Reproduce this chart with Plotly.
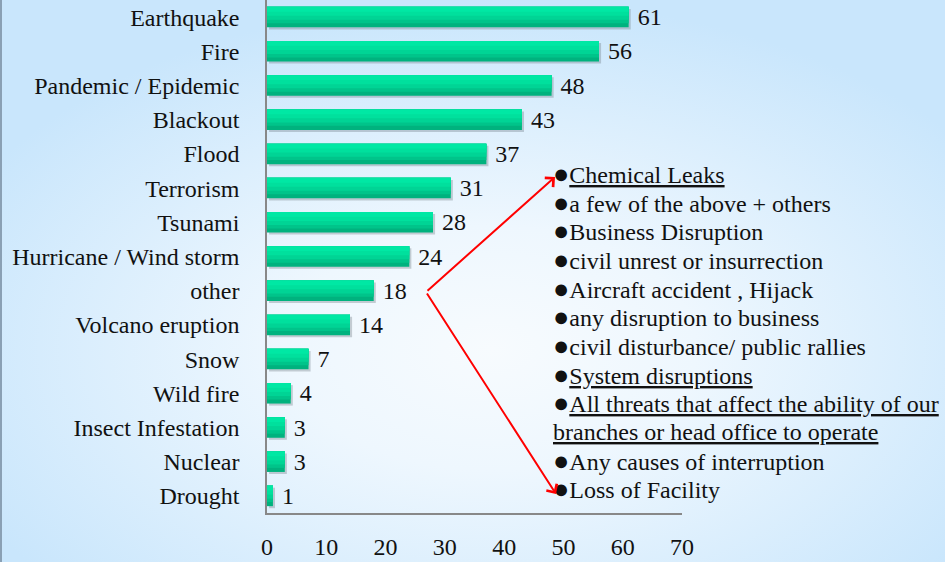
import plotly.graph_objects as go
import urllib.parse

categories = ["Earthquake", "Fire", "Pandemic / Epidemic", "Blackout", "Flood", "Terrorism",
              "Tsunami", "Hurricane / Wind storm", "other", "Volcano eruption", "Snow",
              "Wild fire", "Insect Infestation", "Nuclear", "Drought"]
values = [61, 56, 48, 43, 37, 31, 28, 24, 18, 14, 7, 4, 3, 3, 1]
x_ticks = [0, 10, 20, 30, 40, 50, 60, 70]

other_items = [
    ("●", "<u>Chemical Leaks</u>"),
    ("●", "a few of the above + others"),
    ("●", "Business Disruption"),
    ("●", "civil unrest or insurrection"),
    ("●", "Aircraft accident , Hijack"),
    ("●", "any disruption to business"),
    ("●", "civil disturbance/ public rallies"),
    ("●", "<u>System disruptions</u>"),
    ("●", "<u>All threats that affect the ability of our</u>"),
    ("", "<u>branches or head office to operate</u>"),
    ("●", "Any causes of interruption"),
    ("●", "Loss of Facility"),
]

FONT = "Liberation Serif, Times New Roman, serif"
FS = 24
W, H = 945, 562
L, R, T, B = 267, 682, 0, 513

fig = go.Figure()

# shadow
fig.add_trace(go.Bar(y=categories, x=values, orientation="h", base=0.35,
                     width=0.6, offset=-0.24,
                     marker=dict(color="rgba(110,120,130,0.35)", line=dict(width=0)),
                     hoverinfo="skip", showlegend=False))
# base (dark bottom)
fig.add_trace(go.Bar(y=categories, x=values, orientation="h", width=0.6, offset=-0.3,
                     marker=dict(color="#00B27E", line=dict(width=0)),
                     text=[" " + str(v) for v in values], textposition="outside",
                     textfont=dict(family=FONT, size=FS, color="#111"),
                     constraintext="none", cliponaxis=False,
                     showlegend=False))
# gradient layers
for w, c in [(0.48, "#00C48A"), (0.38, "#00D495"), (0.26, "#00E09D"), (0.14, "#00E8A4")]:
    fig.add_trace(go.Bar(y=categories, x=values, orientation="h", width=w, offset=-0.3,
                         marker=dict(color=c, line=dict(width=0)),
                         hoverinfo="skip", showlegend=False))

pw, ph = R - L, B - T


def px(x):
    return (x - L) / pw


def py(y):
    return 1 - (y - T) / ph


svg = ("<svg xmlns='http://www.w3.org/2000/svg' width='945' height='562'>"
       "<defs><radialGradient id='g' cx='0.52' cy='0.62' r='0.62'>"
       "<stop offset='0' stop-color='#F7FBFE'/>"
       "<stop offset='0.35' stop-color='#EEF7FE'/>"
       "<stop offset='1' stop-color='#C9E6FC'/>"
       "</radialGradient></defs>"
       "<rect width='945' height='562' fill='url(#g)'/></svg>")
src = "data:image/svg+xml;charset=utf-8," + urllib.parse.quote(svg)

annotations = []
y0, dy = 174, 28.65
BUL = "<span style='font-size:27px'>●</span>"
for i, (b, t) in enumerate(other_items):
    yy = y0 + i * dy
    annotations.append(dict(x=px(551), y=py(yy), xref="paper", yref="paper",
                            text=(BUL if b else "") + t, showarrow=False,
                            xanchor="left", yanchor="middle",
                            font=dict(family=FONT, size=FS, color="#111")))

# arrows from "other" bar
tx, ty = 426, 292
for hx, hy in [(555, 177), (556, 494)]:
    annotations.append(dict(x=px(hx), y=py(hy), ax=tx - hx, ay=ty - hy,
                            xref="paper", yref="paper", axref="pixel", ayref="pixel",
                            text="", showarrow=True, arrowhead=4, arrowsize=1.2,
                            arrowwidth=2, arrowcolor="#FF0000"))

fig.update_layout(
    width=W, height=H,
    margin=dict(l=L, r=W - R, t=T, b=H - B, pad=0, autoexpand=False),
    barmode="overlay",
    paper_bgcolor="#DDEFFC",
    plot_bgcolor="rgba(0,0,0,0)",
    showlegend=False,
    font=dict(family=FONT, size=FS, color="#111"),
    images=[dict(source=src, xref="paper", yref="paper", x=-L / pw, y=1 + T / ph,
                 sizex=W / pw, sizey=H / ph, sizing="stretch", layer="below",
                 xanchor="left", yanchor="top")],
    annotations=annotations,
    shapes=[dict(type="line", xref="paper", yref="paper", x0=-L / pw + 1 / pw, x1=-L / pw + 1 / pw,
                 y0=py(H), y1=py(0), line=dict(color="#8AA0B4", width=2))],
)

fig.update_xaxes(range=[0, 70], tickvals=x_ticks, ticks="", showgrid=False, zeroline=False,
                 showline=True, linecolor="#888888", linewidth=1.5, automargin=False,
                 tickfont=dict(family=FONT, size=FS, color="#111"), ticklabelstandoff=11)
fig.update_yaxes(autorange="reversed", ticks="", showgrid=False, zeroline=False,
                 showline=True, linecolor="#888888", linewidth=1.5, automargin=False,
                 tickfont=dict(family=FONT, size=FS, color="#111"), ticklabelstandoff=21)

fig.write_html("out.html", config={"displayModeBar": False},
               post_script="document.body.style.margin='0';document.body.style.overflow='hidden';")
